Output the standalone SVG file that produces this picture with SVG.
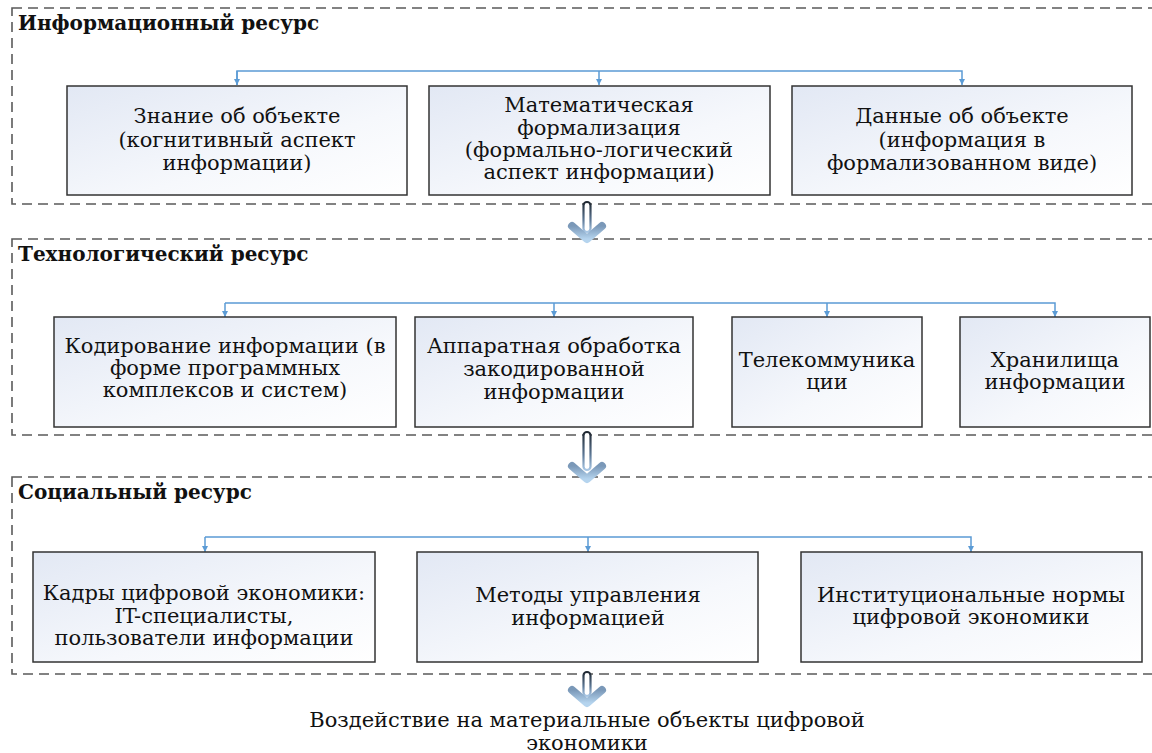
<svg xmlns="http://www.w3.org/2000/svg" width="1152" height="753" viewBox="0 0 1152 753">
<defs>
<linearGradient id="boxfill" x1="0" y1="0" x2="1" y2="1">
<stop offset="0" stop-color="#e2e8f4"/>
<stop offset="0.6" stop-color="#f6f8fc"/>
<stop offset="1" stop-color="#ffffff"/>
</linearGradient>
<linearGradient id="shaft" x1="0" y1="0" x2="0" y2="1">
<stop offset="0" stop-color="#1f2730"/>
<stop offset="0.6" stop-color="#5d7896"/>
<stop offset="1" stop-color="#a9c8e6"/>
</linearGradient>
<linearGradient id="head" x1="0" y1="0" x2="0" y2="1">
<stop offset="0" stop-color="#7a98b8"/>
<stop offset="1" stop-color="#b5d4ee"/>
</linearGradient>
<marker id="ah" viewBox="0 0 10 10" refX="10" refY="5" markerWidth="6" markerHeight="6" markerUnits="userSpaceOnUse" orient="auto">
<path d="M0,0 L10,5 L0,10 z" fill="#5b9bd5"/>
</marker>
<g id="bigarrow">
<polyline points="-15,-13 0,0 15,-13" fill="none" stroke="url(#head)" stroke-width="8" stroke-linecap="round" stroke-linejoin="round"/>
</g>
</defs>
<style>
.cont{fill:none;stroke:#5a5a5a;stroke-width:1.6;stroke-dasharray:10 6}
.box{fill:url(#boxfill);stroke:#333;stroke-width:1.5}
.t{font-family:"DejaVu Serif",serif;font-size:21px;fill:#111;text-anchor:middle}
.h{font-family:"DejaVu Serif",serif;font-size:20px;font-weight:bold;fill:#111}
.c{fill:none;stroke:#5b9bd5;stroke-width:1.5}
.sh{fill:#fff;stroke:url(#shaft);stroke-width:2.2}
</style>
<rect width="1152" height="753" fill="#fff"/>

<g id="containers">
<rect class="cont" x="12" y="8" width="1160" height="196"/>
<rect class="cont" x="12" y="239" width="1160" height="196"/>
<rect class="cont" x="12" y="477" width="1160" height="197"/>
</g>

<g id="titles">
<text class="h" x="18" y="30">Информационный ресурс</text>
<text class="h" x="18" y="261">Технологический ресурс</text>
<text class="h" x="18" y="499">Социальный ресурс</text>
</g>

<g id="connectors">
<polyline class="c" points="237,85 237,71 962,71 962,85" marker-end="url(#ah)"/>
<line class="c" x1="237" y1="71" x2="237" y2="85" marker-end="url(#ah)"/>
<line class="c" x1="599" y1="71" x2="599" y2="85" marker-end="url(#ah)"/>
<polyline class="c" points="225,303 1055,303 1055,317" marker-end="url(#ah)"/>
<line class="c" x1="225" y1="303" x2="225" y2="317" marker-end="url(#ah)"/>
<line class="c" x1="554" y1="303" x2="554" y2="317" marker-end="url(#ah)"/>
<line class="c" x1="827" y1="303" x2="827" y2="317" marker-end="url(#ah)"/>
<polyline class="c" points="205,537 971,537 971,552" marker-end="url(#ah)"/>
<line class="c" x1="205" y1="537" x2="205" y2="552" marker-end="url(#ah)"/>
<line class="c" x1="588" y1="537" x2="588" y2="552" marker-end="url(#ah)"/>
</g>

<g id="flow-arrows">
<rect class="sh" x="583.5" y="202" width="7" height="30" rx="3.5"/>
<use href="#bigarrow" x="587" y="239"/>
<rect class="sh" x="583.5" y="432" width="7" height="38" rx="3.5"/>
<use href="#bigarrow" x="587" y="479"/>
<rect class="sh" x="583.5" y="672" width="7" height="24" rx="3.5"/>
<use href="#bigarrow" x="587" y="703"/>
</g>

<g id="n1"><rect class="box" x="67" y="86" width="340" height="109"/>
<text class="t" x="237" y="123">Знание об объекте</text><text class="t" x="237" y="147">(когнитивный аспект</text><text class="t" x="237" y="170">информации)</text></g>
<g id="n2"><rect class="box" x="429" y="86" width="341" height="109"/>
<text class="t" x="599" y="112">Математическая</text><text class="t" x="599" y="135">формализация</text><text class="t" x="599" y="157">(формально-логический</text><text class="t" x="599" y="179">аспект информации)</text></g>
<g id="n3"><rect class="box" x="792" y="86" width="340" height="109"/>
<text class="t" x="962" y="123">Данные об объекте</text><text class="t" x="962" y="147">(информация в</text><text class="t" x="962" y="170">формализованном виде)</text></g>

<g id="n4"><rect class="box" x="54" y="317" width="342" height="110"/>
<text class="t" x="225" y="353">Кодирование информации (в</text><text class="t" x="225" y="375">форме программных</text><text class="t" x="225" y="397">комплексов и систем)</text></g>
<g id="n5"><rect class="box" x="415" y="317" width="278" height="110"/>
<text class="t" x="554" y="353">Аппаратная обработка</text><text class="t" x="554" y="376">закодированной</text><text class="t" x="554" y="399">информации</text></g>
<g id="n6"><rect class="box" x="732" y="317" width="190" height="110"/>
<text class="t" x="827" y="367">Телекоммуника</text><text class="t" x="827" y="389">ции</text></g>
<g id="n7"><rect class="box" x="960" y="317" width="190" height="110"/>
<text class="t" x="1055" y="367">Хранилища</text><text class="t" x="1055" y="389">информации</text></g>

<g id="n8"><rect class="box" x="33" y="552" width="342" height="110"/>
<text class="t" x="204" y="600">Кадры цифровой экономики:</text><text class="t" x="204" y="623">IT-специалисты,</text><text class="t" x="204" y="645">пользователи информации</text></g>
<g id="n9"><rect class="box" x="417" y="552" width="341" height="110"/>
<text class="t" x="588" y="602">Методы управления</text><text class="t" x="588" y="625">информацией</text></g>
<g id="n10"><rect class="box" x="801" y="552" width="341" height="110"/>
<text class="t" x="971" y="602">Институциональные нормы</text><text class="t" x="971" y="624">цифровой экономики</text></g>

<g id="result">
<text class="t" x="587" y="727">Воздействие на материальные объекты цифровой</text>
<text class="t" x="587" y="750">экономики</text>
</g>
</svg>
